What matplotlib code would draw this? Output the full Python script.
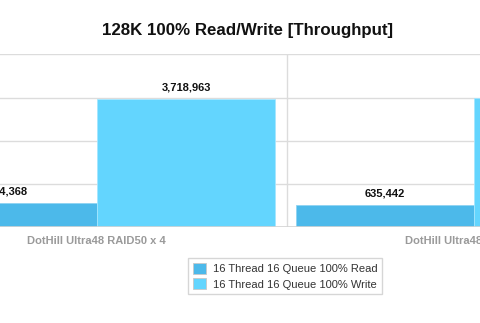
import numpy as np
import matplotlib
matplotlib.use("Agg")
import matplotlib.pyplot as plt

plt.rcParams['font.family'] = ['Liberation Sans', 'DejaVu Sans']

categories = ["DotHill Ultra48 RAID50 x 4", "DotHill Ultra48 RAID10 x 4"]
read_vals = [694368, 635442]
write_vals = [3718963, 3730000]
series_names = ["16 Thread 16 Queue 100% Read", "16 Thread 16 Queue 100% Write"]
read_color = "#4cb9ea"
write_color = "#63d5fe"

fig = plt.figure(figsize=(4.8, 3.23), dpi=100)
ax = fig.add_axes([0.0, 0.2963, 1.0, 0.535])

x = np.arange(len(categories))
w = 0.473
ax.bar(x - w / 2, read_vals, w, color=read_color, edgecolor="#8fd3f2", linewidth=0.6, label=series_names[0])
ax.bar(x + w / 2, write_vals, w, color=write_color, edgecolor="#a6e6ff", linewidth=0.6, label=series_names[1])

# value labels above bars (only the ones inside the visible area matter)
for xi, v in zip(x - w / 2, read_vals):
    ax.text(xi, v + 330000, f"{v:,}", ha="center", va="center", fontsize=8, fontweight="bold", color="#111111")
for xi, v in zip(x + w / 2, write_vals):
    if xi < ax.get_xlim()[1]:
        ax.text(xi, v + 330000, f"{v:,}", ha="center", va="center", fontsize=8, fontweight="bold", color="#111111")

ax.set_xlim(-0.256, 1.015)
ax.set_ylim(0, 5000000)
ax.set_yticks(np.arange(0, 5000001, 1250000))
ax.yaxis.grid(True, color="#dcdcdc", linewidth=1)
ax.set_axisbelow(True)
ax.axvline(0.504, color="#dcdcdc", linewidth=1, zorder=0)
for s in ax.spines.values():
    s.set_visible(False)
ax.axhline(0, color="#d4d4d4", linewidth=1.2)
ax.tick_params(left=False, bottom=False, labelleft=False)
ax.set_xticks(x)
ax.set_xticklabels(categories, fontsize=8, fontweight="bold", color="#9a9a9a")
ax.tick_params(axis="x", pad=3)

fig.text(0.515, 0.907, "128K 100% Read/Write [Throughput]", ha="center", va="center",
         fontsize=12.2, fontweight="bold", color="#111111")

leg = fig.legend(loc="center", bbox_to_anchor=(0.594, 0.145), fontsize=8, frameon=True,
                 fancybox=False, edgecolor="#cccccc", handlelength=1.2, handleheight=1.2,
                 handletextpad=0.6, labelspacing=0.35, borderpad=0.4, labelcolor="#333333")
leg.get_frame().set_linewidth(1)
for h in leg.legend_handles:
    h.set_edgecolor("#c8c8c8")

fig.savefig("out.png", dpi=100)
